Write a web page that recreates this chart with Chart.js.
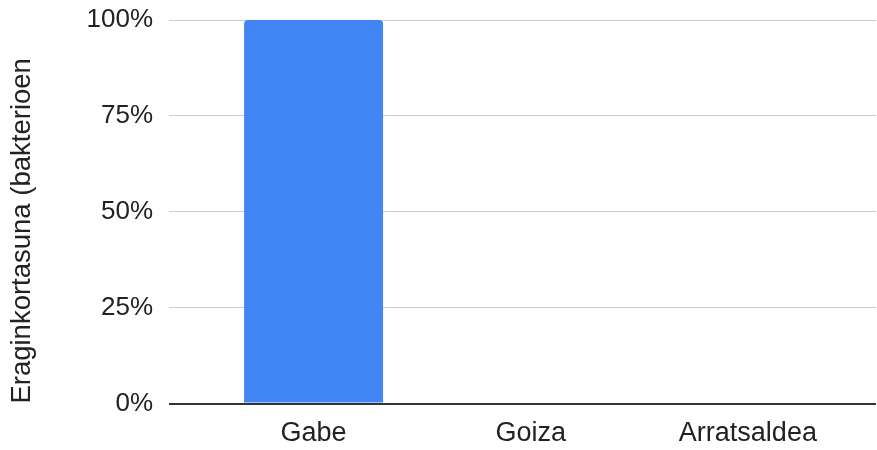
<!DOCTYPE html>
<html>
<head>
<meta charset="utf-8">
<script src="https://cdn.jsdelivr.net/npm/chart.js@4"></script>
<style>
  html, body { margin: 0; padding: 0; background: #fff; }
  #wrap { width: 877px; height: 450px; }
</style>
</head>
<body>
<div id="wrap"><canvas id="chart"></canvas></div>
<script>
const categories = ["Gabe", "Goiza", "Arratsaldea"];
const values = [100, 0.3, 0];
const yTicks = [0, 25, 50, 75, 100];
const yTitle = "Eraginkortasuna (bakterioen";

const font = "Liberation Sans, Arial";

const ctx = document.getElementById("chart").getContext("2d");
new Chart(ctx, {
  type: "bar",
  data: {
    labels: categories,
    datasets: [
      {
        data: values,
        backgroundColor: "#4285f4",
        borderRadius: { topLeft: 4, topRight: 4 },
        borderSkipped: "bottom",
        barPercentage: 0.64,
        categoryPercentage: 1,
      },
    ],
  },
  options: {
    responsive: true,
    maintainAspectRatio: false,
    animation: false,
    layout: { padding: { top: 20, right: 1, bottom: -14, left: 0 } },
    plugins: { legend: { display: false }, tooltip: { enabled: false } },
    scales: {
      x: {
        grid: { display: false, drawTicks: false },
        border: { display: false },
        ticks: { color: "#222", font: { family: font, size: 27 }, padding: 14 },
        // leave some empty room on the right like the original
        afterBuildTicks: (scale) => {
          scale._valueRange = 3.09;
        },
      },
      y: {
        min: 0,
        max: 100,
        afterBuildTicks: (scale) => {
          scale.ticks = yTicks.map((v) => ({ value: v }));
        },
        afterFit: (scale) => {
          scale.width = 205;
          scale.paddingTop = 0;
          scale.paddingBottom = 0;
        },
        grid: {
          color: (c) => (c.tick && c.tick.value === 0 ? "#333" : "#ccc"),
          lineWidth: (c) => (c.tick && c.tick.value === 0 ? 2 : 1),
          tickLength: 36,
        },
        border: { display: false },
        ticks: {
          color: "#222",
          font: { family: font, size: 26 },
          padding: 16,
          callback: (v) => v + "%",
        },
        title: {
          display: true,
          text: yTitle,
          align: "start",
          color: "#222",
          font: { family: font, size: 27.5 },
          padding: { top: 6, bottom: 0 },
        },
      },
    },
  },
});
</script>
</body>
</html>
